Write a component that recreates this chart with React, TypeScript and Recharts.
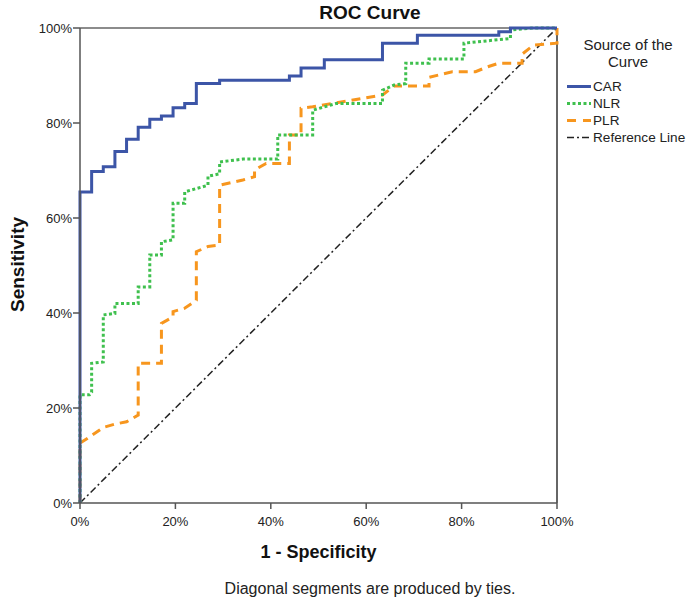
import React from 'react';
import { LineChart, Line, XAxis, YAxis, ReferenceLine, Legend } from 'recharts';

const FONT = '"Liberation Sans", Arial, sans-serif';

const xTicks = [0, 20, 40, 60, 80, 100];
const yTicks = [0, 20, 40, 60, 80, 100];

const seriesNames = ['CAR', 'NLR', 'PLR', 'Reference Line'];

// CAR ROC vertices (1 - specificity %, sensitivity %)
const carFpr = [0, 0, 2.44, 2.44, 4.88, 4.88, 7.32, 7.32, 9.76, 9.76, 12.2, 12.2, 14.63, 14.63, 17.07, 17.07, 19.51, 19.51, 21.95, 21.95, 24.39, 24.39, 29.27, 29.27, 43.9, 43.9, 46.34, 46.34, 51.22, 51.22, 63.41, 63.41, 70.73, 70.73, 87.8, 87.8, 90.24, 90.24, 100];
const carTpr = [0, 65.5, 65.5, 69.8, 69.8, 70.8, 70.8, 74, 74, 76.6, 76.6, 79.1, 79.1, 80.8, 80.8, 81.5, 81.5, 83.2, 83.2, 84.1, 84.1, 88.3, 88.3, 89, 89, 89.9, 89.9, 91.6, 91.6, 93.3, 93.3, 96.8, 96.8, 98.5, 98.5, 99.2, 99.2, 100, 100];

// NLR ROC vertices
const nlrFpr = [0, 0, 2, 2.44, 2.44, 4.88, 4.88, 7.32, 7.32, 12.2, 12.2, 14.63, 14.63, 17.07, 17.07, 19.51, 19.51, 21.95, 21.95, 26.83, 26.83, 29.27, 29.27, 34.15, 41.46, 41.46, 48.78, 48.78, 53.66, 63.41, 63.41, 65.85, 68.29, 68.29, 73.17, 73.17, 80.49, 80.49, 85.37, 90.24, 90.24, 95.12, 100];
const nlrTpr = [0, 22.8, 22.8, 23.3, 29.4, 29.7, 39.6, 39.9, 42, 42, 45.5, 45.5, 52.2, 52.2, 55, 55.4, 63.1, 63.1, 65.5, 66.9, 68.8, 69.3, 71.8, 72.4, 72.4, 77.5, 77.5, 82.7, 84.1, 84.1, 86.9, 88, 88.3, 92.6, 92.6, 93.5, 93.5, 96.8, 97.3, 97.8, 99.6, 100, 100];

// PLR ROC vertices
const plrFpr = [0, 0, 2.44, 4.88, 7.32, 9.76, 12.2, 12.2, 17.07, 17.07, 19.51, 19.51, 21.95, 24.39, 24.39, 26.83, 29.27, 29.27, 34.15, 36.59, 36.59, 39.02, 43.9, 43.9, 46.34, 46.34, 48.78, 55.9, 63.41, 65.85, 73.17, 73.17, 75.61, 78.05, 82.93, 85.37, 87.8, 92.68, 92.68, 95.12, 100, 100];
const plrTpr = [0, 12.6, 14.2, 15.9, 16.6, 17.1, 18.5, 29.4, 29.4, 37.8, 39.2, 40.3, 41, 42.7, 52.9, 54, 54.3, 66.9, 68, 68.7, 70.1, 71.5, 71.5, 77.5, 77.5, 83.1, 83.4, 84.6, 85.9, 87.8, 87.8, 89.6, 90.2, 90.8, 90.8, 91.8, 92.6, 92.6, 94.5, 96.4, 96.8, 100];

const refFpr = [0, 100];
const refTpr = [0, 100];

const toPoints = (fpr: number[], tpr: number[]) => fpr.map((x, i) => ({ x, y: tpr[i] }));

const carData = toPoints(carFpr, carTpr);
const nlrData = toPoints(nlrFpr, nlrTpr);
const plrData = toPoints(plrFpr, plrTpr);
const refData = toPoints(refFpr, refTpr);

const styles = [
  { color: '#3c55a7', dash: undefined as string | undefined, width: 3, legendDash: undefined as string | undefined },
  { color: '#3fc04e', dash: '3 2.5', width: 3, legendDash: '3 2.5' },
  { color: '#f7961e', dash: '9 6', width: 3, legendDash: '9 7' },
  { color: '#222222', dash: '7 3 2 3', width: 1.5, legendDash: '7 3 2 3' },
];

const pct = (v: number) => `${v}%`;

const LegendContent = () => (
  <div style={{ fontFamily: FONT, color: '#222', width: 132 }}>
    <div style={{ textAlign: 'center', fontSize: 15, lineHeight: '17px' }}>
      Source of the
      <br />
      Curve
    </div>
    <div style={{ marginTop: 7.5 }}>
      {seriesNames.map((name, i) => (
        <div key={name} style={{ display: 'flex', alignItems: 'center', height: 17, paddingLeft: 5 }}>
          <svg width={24} height={17} style={{ display: 'block' }}>
            <line x1={0} y1={8.5} x2={24} y2={8.5} stroke={styles[i].color} strokeWidth={i === 3 ? 1.5 : 3} strokeDasharray={styles[i].legendDash} />
          </svg>
          <span style={{ fontSize: 13.6, marginLeft: 2, whiteSpace: 'nowrap' }}>{name}</span>
        </div>
      ))}
    </div>
  </div>
);

export default function App() {
  return (
    <div style={{ position: 'absolute', left: 0, top: 0, width: 695, height: 603, background: '#fff' }}>
      <div
        style={{
          position: 'absolute', left: 0, top: 3, width: 740, textAlign: 'center',
          fontFamily: FONT, fontWeight: 'bold', fontSize: 19, lineHeight: '19px', color: '#111',
        }}
      >
        ROC Curve
      </div>
      <LineChart width={695} height={603} margin={{ top: 28, right: 138, bottom: 70, left: 20 }}>
        <XAxis
          type="number"
          dataKey="x"
          domain={[0, 100]}
          ticks={xTicks}
          tickFormatter={pct}
          height={30}
          tickSize={6}
          tickMargin={8}
          axisLine={{ stroke: '#555', strokeWidth: 1.5 }}
          tickLine={{ stroke: '#555', strokeWidth: 1.5 }}
          tick={{ fill: '#222', fontSize: 13, fontFamily: FONT }}
          allowDuplicatedCategory={false}
          label={{
            content: (p: any) => {
              const vb = p.viewBox || { x: 80, width: 477, y: 503 };
              return (
                <text x={vb.x + vb.width / 2} y={557.5} textAnchor="middle" fontFamily={FONT} fontWeight="bold" fontSize={18} fill="#111">
                  1 - Specificity
                </text>
              );
            },
          }}
        />
        <YAxis
          type="number"
          dataKey="y"
          domain={[0, 100]}
          ticks={yTicks}
          tickFormatter={pct}
          width={60}
          tickSize={7}
          tickMargin={1}
          axisLine={{ stroke: '#555', strokeWidth: 1.5 }}
          tickLine={{ stroke: '#555', strokeWidth: 1.5 }}
          tick={{ fill: '#222', fontSize: 13, fontFamily: FONT }}
          label={{
            content: (p: any) => {
              const vb = p.viewBox || { x: 20, y: 28, height: 475 };
              const cx = vb.x - 3 + 6.5;
              const cy = vb.y + vb.height / 2 - 1;
              return (
                <text x={cx} y={cy} transform={`rotate(-90, ${cx}, ${cy})`} textAnchor="middle" fontFamily={FONT} fontWeight="bold" fontSize={19} fill="#111">
                  Sensitivity
                </text>
              );
            },
          }}
        />
        <ReferenceLine y={100} stroke="#8c8c8c" strokeWidth={2} />
        <ReferenceLine x={100} stroke="#666" strokeWidth={2} />
        <Line data={refData} dataKey="y" name="Reference Line" type="linear" stroke={styles[3].color} strokeWidth={styles[3].width} strokeDasharray={styles[3].dash} dot={false} activeDot={false} isAnimationActive={false} />
        <Line data={plrData} dataKey="y" name="PLR" type="linear" stroke={styles[2].color} strokeWidth={styles[2].width} strokeDasharray={styles[2].dash} dot={false} activeDot={false} isAnimationActive={false} />
        <Line data={nlrData} dataKey="y" name="NLR" type="linear" stroke={styles[1].color} strokeWidth={styles[1].width} strokeDasharray={styles[1].dash} dot={false} activeDot={false} isAnimationActive={false} />
        <Line data={carData} dataKey="y" name="CAR" type="linear" stroke={styles[0].color} strokeWidth={styles[0].width} dot={false} activeDot={false} isAnimationActive={false} />
        <Legend
          layout="vertical"
          align="center"
          verticalAlign="middle"
          content={() => <LegendContent />}
          wrapperStyle={{ left: 562, top: 36, width: 132, height: 'auto' }}
        />
      </LineChart>
      <div
        style={{
          position: 'absolute', left: 0, top: 580.5, width: 740, textAlign: 'center',
          fontFamily: FONT, fontSize: 16, lineHeight: '16px', color: '#222',
        }}
      >
        Diagonal segments are produced by ties.
      </div>
    </div>
  );
}
